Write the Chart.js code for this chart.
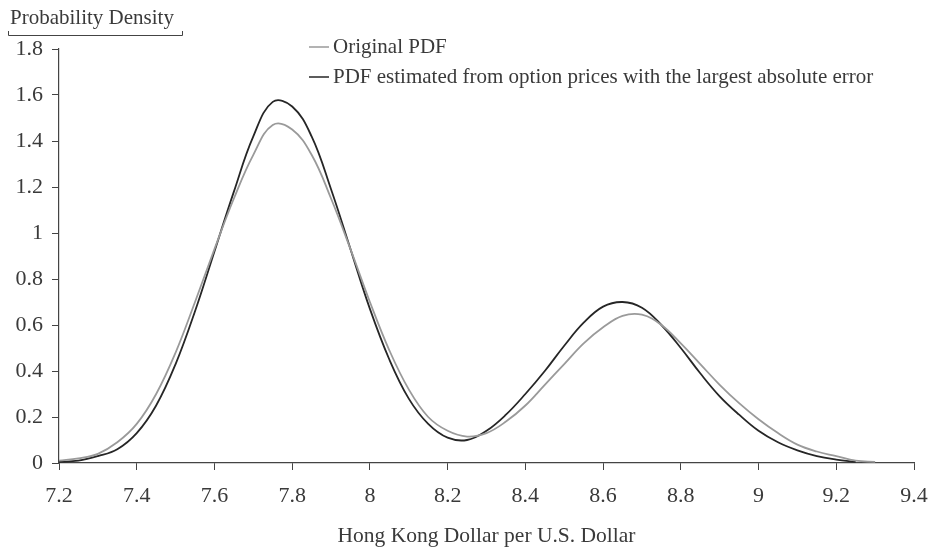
<!DOCTYPE html>
<html>
<head>
<meta charset="utf-8">
<script src="https://cdn.jsdelivr.net/npm/chart.js@4"></script>
<style>
  html, body { margin: 0; padding: 0; background: #fff; }
  #wrap { width: 929px; height: 549px; }
</style>
</head>
<body>
<div id="wrap"><canvas id="pdfChart" width="929" height="549"></canvas></div>
<script>
// x grid of the curves (HKD per USD)
const xValues = [
    7.20, 7.25, 7.30, 7.35, 7.40, 7.45, 7.50, 7.55, 7.60, 7.65,
    7.70, 7.75, 7.80, 7.85, 7.90, 7.95, 8.00, 8.05, 8.10, 8.15,
    8.20, 8.25, 8.30, 8.35, 8.40, 8.45, 8.50, 8.55, 8.60, 8.65,
    8.70, 8.75, 8.80, 8.85, 8.90, 8.95, 9.00, 9.05, 9.10, 9.15,
    9.20, 9.25, 9.30
];
// Original PDF (grey)
const originalPdf = [
    0.01, 0.02, 0.04, 0.09, 0.17, 0.30, 0.48, 0.70, 0.93, 1.15,
    1.34, 1.47, 1.45, 1.34, 1.15, 0.93, 0.70, 0.49, 0.32, 0.20,
    0.14, 0.115, 0.13, 0.18, 0.25, 0.34, 0.43, 0.52, 0.59, 0.64,
    0.645, 0.60, 0.52, 0.43, 0.34, 0.26, 0.19, 0.13, 0.08, 0.05,
    0.03, 0.01, 0.005
];
// PDF estimated from option prices (black)
const estimatedPdf = [
    0.005, 0.01, 0.03, 0.06, 0.13, 0.25, 0.43, 0.66, 0.92, 1.18,
    1.42, 1.57, 1.55, 1.42, 1.19, 0.93, 0.67, 0.45, 0.28, 0.17,
    0.11, 0.10, 0.14, 0.21, 0.30, 0.40, 0.51, 0.61, 0.68, 0.70,
    0.675, 0.60, 0.50, 0.39, 0.29, 0.21, 0.14, 0.09, 0.055, 0.03,
    0.015, 0.005
];
const seriesLabels = ['Original PDF', 'PDF estimated from option prices with the largest absolute error'];
const xTicks = [7.2, 7.4, 7.6, 7.8, 8, 8.2, 8.4, 8.6, 8.8, 9, 9.2, 9.4];
const yTicks = [0, 0.2, 0.4, 0.6, 0.8, 1, 1.2, 1.4, 1.6, 1.8];

const FONT = '"Liberation Serif", "DejaVu Serif", serif';
const TEXT = '#3a3a3a';
const AXIS = '#444';

const toPoints = (ys) => ys.map((y, i) => ({ x: xValues[i], y: y }));

// legend + y-axis title drawn by hand, like the original figure
const decorPlugin = {
    id: 'decor',
    afterDraw(chart) {
        const ctx = chart.ctx;
        ctx.save();
        ctx.font = '21px ' + FONT;
        ctx.fillStyle = TEXT;
        ctx.textBaseline = 'middle';
        ctx.textAlign = 'left';
        // y axis title with underline bracket
        ctx.fillText('Probability Density', 10, 18);
        ctx.strokeStyle = AXIS;
        ctx.lineWidth = 1;
        ctx.beginPath();
        ctx.moveTo(8.5, 31);
        ctx.lineTo(8.5, 35.5);
        ctx.lineTo(182.5, 35.5);
        ctx.lineTo(182.5, 31);
        ctx.stroke();
        // legend
        chart.data.datasets.forEach((ds, i) => {
            const y = 47 + i * 30;
            ctx.strokeStyle = ds.borderColor;
            ctx.lineWidth = 1.5;
            ctx.beginPath();
            ctx.moveTo(309, y);
            ctx.lineTo(329, y);
            ctx.stroke();
            ctx.fillText(ds.label, 333, y);
        });
        ctx.restore();
    }
};

new Chart(document.getElementById('pdfChart').getContext('2d'), {
    type: 'line',
    data: {
        datasets: [
            {
                label: seriesLabels[0],
                data: toPoints(originalPdf),
                borderColor: '#9a9a9a',
                borderWidth: 1.8,
                pointRadius: 0,
                tension: 0.4,
                fill: false
            },
            {
                label: seriesLabels[1],
                data: toPoints(estimatedPdf),
                borderColor: '#262626',
                borderWidth: 1.8,
                pointRadius: 0,
                tension: 0.4,
                fill: false
            }
        ]
    },
    options: {
        responsive: false,
        animation: false,
        layout: { padding: { top: 49, right: 15, left: 0, bottom: 0 } },
        plugins: {
            legend: { display: false },
            tooltip: { enabled: false }
        },
        scales: {
            x: {
                type: 'linear',
                min: 7.2,
                max: 9.4,
                afterBuildTicks: (scale) => { scale.ticks = xTicks.map(v => ({ value: v })); },
                afterFit: (scale) => {
                    scale.height = 86;
                    scale.paddingRight = 0;
                    scale.paddingLeft = 0;
                },
                grid: { drawOnChartArea: false, drawTicks: true, tickLength: 7, color: AXIS },
                border: { color: AXIS, width: 1.2 },
                ticks: {
                    color: TEXT,
                    padding: 13,
                    maxRotation: 0,
                    font: { family: FONT, size: 22 },
                    callback: (v) => String(v)
                },
                title: {
                    display: true,
                    text: 'Hong Kong Dollar per U.S. Dollar',
                    color: TEXT,
                    font: { family: FONT, size: 21.5 },
                    padding: { top: 8, bottom: 0 }
                }
            },
            y: {
                min: 0,
                max: 1.8,
                afterBuildTicks: (scale) => { scale.ticks = yTicks.map(v => ({ value: v })); },
                afterFit: (scale) => { scale.width = 59; },
                grid: { drawOnChartArea: false, drawTicks: true, tickLength: 7, color: AXIS },
                border: { color: AXIS, width: 1.2 },
                ticks: {
                    color: TEXT,
                    padding: 9,
                    font: { family: FONT, size: 22 },
                    callback: (v) => String(Math.round(v * 10) / 10)
                }
            }
        }
    },
    plugins: [decorPlugin]
});
</script>
</body>
</html>
